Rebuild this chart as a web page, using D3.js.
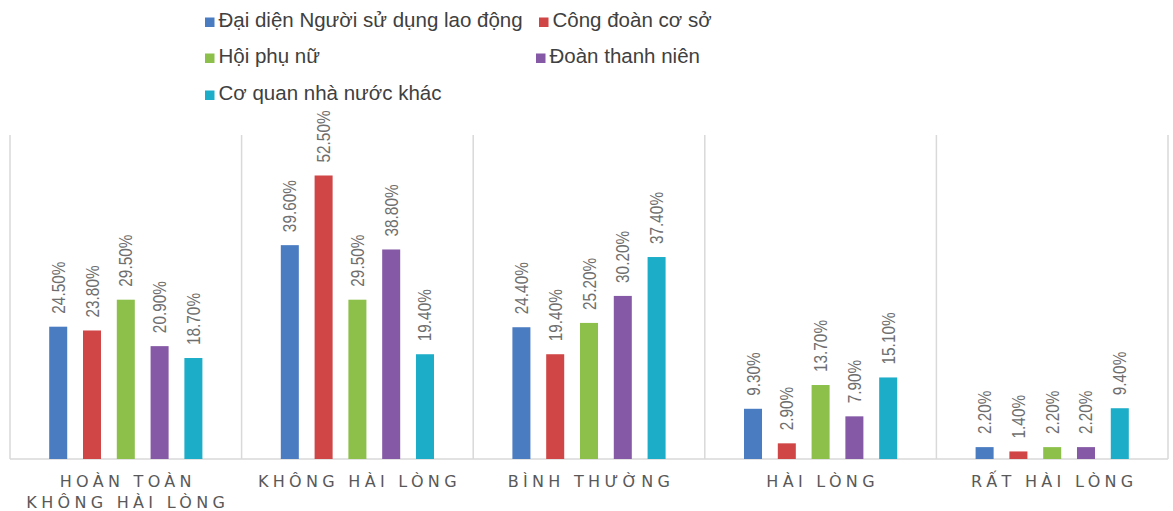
<!DOCTYPE html>
<meta charset="utf-8">
<head>
  <title>Mức độ hài lòng</title>
</head>

<style>
body { margin: 0; background: white; }
text { font-family: "Liberation Sans", Arial, sans-serif; }
.legend text { font-size: 20.5px; fill: #404040; }
.val { font-size: 18.5px; fill: #6e6e6e; }
.cat { font-family: "DejaVu Sans", sans-serif; font-size: 16px; fill: #595959; letter-spacing: 4.3px; }
.grid line { stroke: #d9d9d9; stroke-width: 1.5; }
</style>

<body>
  <svg width="1173" height="511"></svg>

  <script src="https://cdn.jsdelivr.net/npm/d3@7"></script>
  <script>
var categories = ["HOÀN TOÀN\nKHÔNG HÀI LÒNG", "KHÔNG HÀI LÒNG", "BÌNH THƯỜNG", "HÀI LÒNG", "RẤT HÀI LÒNG"];
var seriesNames = ["Đại diện Người sử dụng lao động", "Công đoàn cơ sở", "Hội phụ nữ", "Đoàn thanh niên", "Cơ quan nhà nước khác"];
var nguoiSuDung = [24.5, 39.6, 24.4, 9.3, 2.2];
var congDoan = [23.8, 52.5, 19.4, 2.9, 1.4];
var hoiPhuNu = [29.5, 29.5, 25.2, 13.7, 2.2];
var doanThanhNien = [20.9, 38.8, 30.2, 7.9, 2.2];
var coQuanKhac = [18.7, 19.4, 37.4, 15.1, 9.4];
var colors = ["#4a7cc2", "#d04545", "#8cc04b", "#8559a6", "#1cadc8"];

var series = [nguoiSuDung, congDoan, hoiPhuNu, doanThanhNien, coQuanKhac];

var svg = d3.select('svg');

var x0 = d3.scaleBand().domain(categories).range([10, 1168]);
var x1 = d3.scaleBand().domain(seriesNames).range([0, x0.bandwidth()])
  .paddingInner(0.467).paddingOuter(1.16);
var y = d3.scaleLinear().domain([0, 60]).range([459, 135]);

// separators between categories
var edges = categories.map(function(c) { return x0(c); }).concat([x0.range()[1]]);
svg.append('g').attr('class', 'grid')
  .selectAll('line')
  .data(edges)
  .enter()
  .append('line')
  .attr('x1', function(d) { return d; })
  .attr('x2', function(d) { return d; })
  .attr('y1', y(60))
  .attr('y2', y(0));

svg.select('.grid').append('line')
  .attr('x1', x0.range()[0]).attr('x2', x0.range()[1])
  .attr('y1', y(0)).attr('y2', y(0));

var groups = svg.append('g')
  .selectAll('g')
  .data(categories)
  .enter()
  .append('g')
  .attr('transform', function(d) { return 'translate(' + x0(d) + ',0)'; });

groups.each(function(cat, ci) {
  var g = d3.select(this);
  var vals = series.map(function(s, si) { return {name: seriesNames[si], value: s[ci], color: colors[si]}; });

  g.selectAll('rect')
    .data(vals)
    .enter()
    .append('rect')
    .attr('x', function(d) { return x1(d.name); })
    .attr('width', x1.bandwidth())
    .attr('y', function(d) { return y(d.value); })
    .attr('height', function(d) { return y(0) - y(d.value); })
    .attr('fill', function(d) { return d.color; });

  // narrow labels: squeeze along the text direction
  g.selectAll('text.val')
    .data(vals)
    .enter()
    .append('text')
    .attr('class', 'val')
    .attr('transform', function(d) {
      return 'translate(' + (x1(d.name) + x1.bandwidth() / 2 + 6.5) + ',' + (y(d.value) - 13) + ') rotate(-90) scale(0.83,1)';
    })
    .text(function(d) { return d.value.toFixed(2) + '%'; });
});

// category labels
var catLabels = svg.append('g')
  .selectAll('text')
  .data(categories)
  .enter()
  .append('text')
  .attr('class', 'cat')
  .attr('text-anchor', 'middle')
  .attr('x', function(d) { return x0(d) + x0.bandwidth() / 2 + 2; })
  .attr('y', 487);

catLabels.selectAll('tspan')
  .data(function(d) { return d.split('\n'); })
  .enter()
  .append('tspan')
  .attr('x', function() { return d3.select(this.parentNode).attr('x'); })
  .attr('dy', function(d, i) { return i === 0 ? 0 : 21; })
  .text(function(d) { return d; });

// legend
var legendCols = [205, 536];
var legendRows = [27, 63, 100];
var legendPos = [[0, 0], [1, 0], [0, 1], [1, 1], [0, 2]];

var legend = svg.append('g').attr('class', 'legend')
  .selectAll('g')
  .data(seriesNames)
  .enter()
  .append('g')
  .attr('transform', function(d, i) {
    var p = legendPos[i];
    var cx = legendCols[p[0]] + (i === 1 ? 3 : 0);
    return 'translate(' + cx + ',' + legendRows[p[1]] + ')';
  });

legend.append('rect')
  .attr('x', 0).attr('y', -9.5)
  .attr('width', 9.5).attr('height', 9.5)
  .attr('fill', function(d, i) { return colors[i]; });

legend.append('text')
  .attr('x', 13.5)
  .attr('y', 0)
  .text(function(d) { return d; });
  </script>
</body>
</html>
